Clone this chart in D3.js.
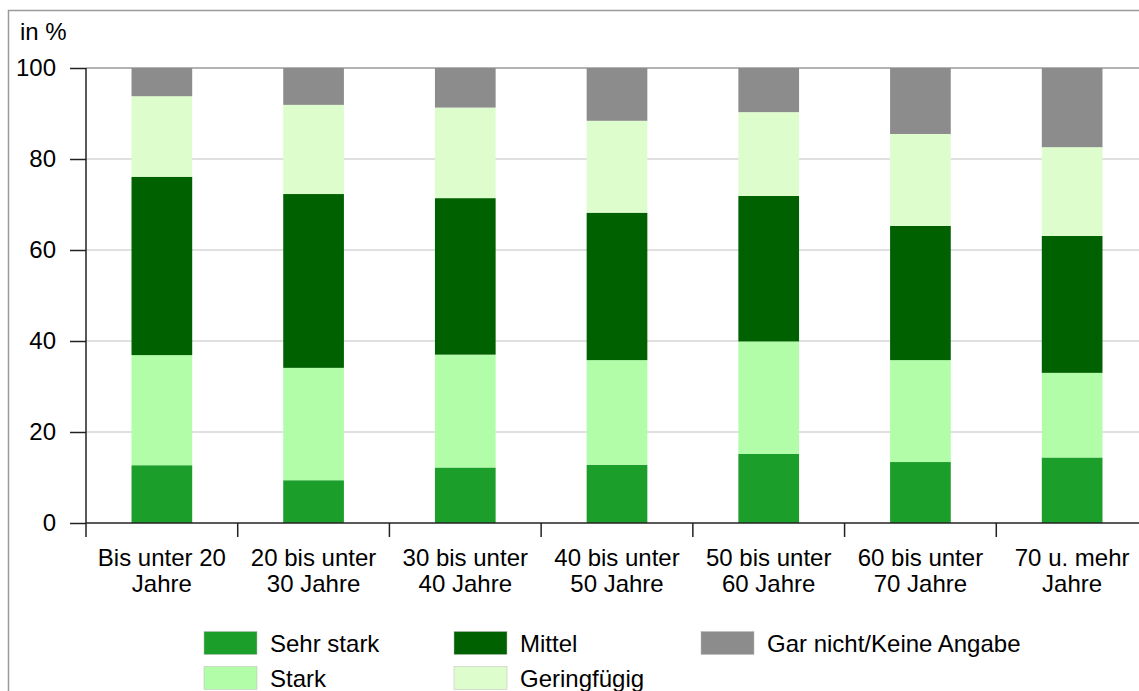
<!DOCTYPE html>
<html>
<head>
<meta charset="utf-8">
<script src="https://cdn.jsdelivr.net/npm/d3@7"></script>
<style>
  html, body { margin: 0; padding: 0; background: #fff; }
  svg { display: block; font-family: "Liberation Sans", Arial, sans-serif; }
</style>
</head>
<body>
<svg id="chart" width="1139" height="691"></svg>
<script>
// ---- Data ----
const categories = [
  ["Bis unter 20", "Jahre"],
  ["20 bis unter", "30 Jahre"],
  ["30 bis unter", "40 Jahre"],
  ["40 bis unter", "50 Jahre"],
  ["50 bis unter", "60 Jahre"],
  ["60 bis unter", "70 Jahre"],
  ["70 u. mehr", "Jahre"]
];
const seriesNames = ["Sehr stark", "Stark", "Mittel", "Geringfügig", "Gar nicht/Keine Angabe"];
const sehrStark   = [12.7,  9.4, 12.2, 12.8, 15.2, 13.4, 14.4];
const stark       = [24.2, 24.7, 24.8, 23.0, 24.7, 22.4, 18.6];
const mittel      = [39.2, 38.2, 34.4, 32.4, 32.0, 29.5, 30.1];
const geringfuegig= [17.7, 19.6, 19.9, 20.2, 18.4, 20.2, 19.5];
const garNicht    = [ 6.2,  8.1,  8.7, 11.6,  9.7, 14.5, 17.4];
const yTicks = [0, 20, 40, 60, 80, 100];
const yLabel = "in %";

const colors = ["#1c9e2a", "#b2fda8", "#006100", "#ddfdcc", "#8c8c8c"];

(function () {
// ---- Layout ----
const svg = d3.select("#chart");
const W = 1139, H = 691;
const mLeft = 86, mTop = 68, mBottom = 523;
const FS = 24;

svg.append("rect").attr("width", W).attr("height", H).attr("fill", "#fff");
// outer frame
svg.append("path")
  .attr("d", `M8.5,${H + 2} L8.5,10.5 L${W + 2},10.5`)
  .attr("fill", "none").attr("stroke", "#9a9a9a").attr("stroke-width", 1.5);

const keys = categories.map(c => c.join(" "));
const x = d3.scaleBand().domain(keys).range([mLeft, mLeft + 1062])
  .paddingInner(0.6).paddingOuter(0.3);
const y = d3.scaleLinear().domain([0, 100]).range([mBottom, mTop]);

// gridlines
svg.append("g").selectAll("line").data(yTicks.filter(t => t > 0)).join("line")
  .attr("x1", mLeft).attr("x2", W)
  .attr("y1", d => y(d)).attr("y2", d => y(d))
  .attr("stroke", d => d === 100 ? "#9a9a9a" : "#d6d6d6")
  .attr("stroke-width", 1.5);

// stacked data
const rows = keys.map((k, i) => ({
  key: k,
  "Sehr stark": sehrStark[i],
  "Stark": stark[i],
  "Mittel": mittel[i],
  "Geringfügig": geringfuegig[i],
  "Gar nicht/Keine Angabe": garNicht[i]
}));
const stacked = d3.stack().keys(seriesNames)(rows);

svg.append("g").selectAll("g").data(stacked).join("g")
  .attr("fill", (d, i) => colors[i])
  .selectAll("rect").data(d => d).join("rect")
  .attr("x", d => x(d.data.key))
  .attr("width", x.bandwidth())
  .attr("y", d => y(Math.min(100, d[1])))
  .attr("height", d => y(d[0]) - y(Math.min(100, d[1])));

// y axis
const yAxis = d3.axisLeft(y).tickValues(yTicks).tickSize(16).tickPadding(14);
const gy = svg.append("g").attr("transform", `translate(${mLeft},0)`).call(yAxis);
gy.select(".domain").remove();
gy.selectAll(".tick line").attr("stroke", "#222").attr("stroke-width", 1.5);
gy.selectAll(".tick text").attr("font-size", FS).attr("fill", "#000")
  .attr("font-family", "Liberation Sans, Arial, sans-serif");
svg.append("line").attr("x1", mLeft).attr("x2", mLeft).attr("y1", mTop).attr("y2", mBottom)
  .attr("stroke", "#222").attr("stroke-width", 1.5);

// x axis
svg.append("line").attr("x1", mLeft).attr("x2", W).attr("y1", mBottom).attr("y2", mBottom)
  .attr("stroke", "#222").attr("stroke-width", 1.5);
const step = x.step();
svg.append("g").selectAll("line").data(keys).join("line")
  .attr("x1", d => x(d) - step * 0.3).attr("x2", d => x(d) - step * 0.3)
  .attr("y1", mBottom).attr("y2", mBottom + 14)
  .attr("stroke", "#222").attr("stroke-width", 1.5);

const xl = svg.append("g").selectAll("text").data(categories).join("text")
  .attr("x", (d, i) => x(keys[i]) + x.bandwidth() / 2)
  .attr("y", 566)
  .attr("text-anchor", "middle")
  .attr("font-size", FS).attr("fill", "#000");
xl.selectAll("tspan").data(d => d).join("tspan")
  .attr("x", function () { return d3.select(this.parentNode).attr("x"); })
  .attr("dy", (d, i) => i === 0 ? 0 : 26)
  .text(d => d);

// y label
svg.append("text").attr("x", 20).attr("y", 40).attr("font-size", FS).attr("fill", "#000").text(yLabel);

// legend
const legendPos = [
  {col: 0, row: 0}, {col: 0, row: 1},
  {col: 1, row: 0}, {col: 1, row: 1},
  {col: 2, row: 0}
];
const colX = [204, 454, 701];
const rowY = [643, 678];
const lg = svg.append("g").selectAll("g").data(seriesNames).join("g")
  .attr("transform", (d, i) => `translate(${colX[legendPos[i].col]},${rowY[legendPos[i].row]})`);
lg.append("rect").attr("x", 0).attr("y", -11.5).attr("width", 53).attr("height", 23)
  .attr("fill", (d, i) => colors[i]).attr("stroke", "#bbb").attr("stroke-width", 0.5);
lg.append("text").attr("x", 66).attr("y", 8.5).attr("font-size", FS).attr("fill", "#000")
  .text(d => d);
})();
</script>
</body>
</html>
